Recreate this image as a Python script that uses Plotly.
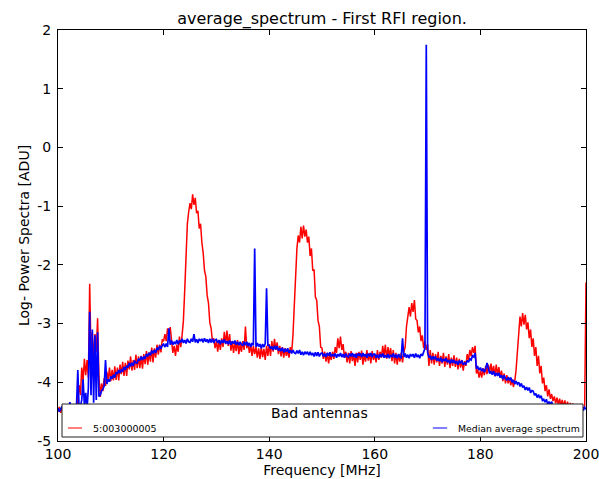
import numpy as np
import plotly.graph_objects as go

# Frequency grid: 100-200 MHz in 0.25 MHz channels
FREQ_MHZ = np.linspace(100.0, 200.0, 401)

# Median average spectrum (log power), one row per 5 MHz
MEDIAN_SPECTRUM = [
    -4.44, -4.50, -4.46, -4.41, -4.48, -4.43, -4.47, -4.42, -4.46, -4.34, -4.47, -4.43, -4.45, -4.49, -4.42, -3.79, -4.46, -4.41, -4.30, -3.95,
    -4.40, -4.18, -4.45, -4.10, -2.80, -4.22, -3.10, -4.35, -3.20, -4.30, -3.15, -4.24, -4.22, -4.14, -4.12, -4.06, -3.62, -4.03, -3.95, -3.99,
    -3.90, -3.94, -3.87, -3.92, -3.83, -3.86, -3.79, -3.84, -3.79, -3.81, -3.74, -3.79, -3.72, -3.75, -3.67, -3.73, -3.67, -3.72, -3.63, -3.67,
    -3.67, -3.60, -3.63, -3.56, -3.62, -3.56, -3.60, -3.52, -3.55, -3.50, -3.54, -3.46, -3.51, -3.45, -3.50, -3.41, -3.45, -3.38, -3.43, -3.37,
    -3.35, -3.40, -3.34, -3.40, -3.08, -3.36, -3.29, -3.36, -3.31, -3.35, -3.28, -3.35, -3.29, -3.32, -3.26, -3.33, -3.28, -3.34, -3.26, -3.31,
    -3.32, -3.26, -3.31, -3.18, -3.32, -3.27, -3.33, -3.26, -3.30, -3.26, -3.32, -3.25, -3.31, -3.27, -3.33, -3.26, -3.32, -3.26, -3.33, -3.28,
    -3.27, -3.33, -3.28, -3.35, -3.28, -3.33, -3.27, -3.34, -3.30, -3.35, -3.29, -3.36, -3.30, -3.34, -3.29, -3.36, -3.31, -3.37, -3.31, -3.36,
    -3.37, -3.31, -3.37, -3.31, -3.38, -3.33, -3.40, -3.33, -3.37, -1.72, -3.40, -3.33, -3.39, -3.35, -3.42, -3.35, -3.40, -3.34, -2.40, -3.37,
    -3.37, -3.43, -3.39, -3.45, -3.38, -3.44, -3.38, -3.46, -3.42, -3.47, -3.41, -3.49, -3.43, -3.48, -3.42, -3.50, -3.45, -3.51, -3.45, -3.50,
    -3.51, -3.46, -3.51, -3.45, -3.53, -3.48, -3.54, -3.48, -3.52, -3.48, -3.54, -3.48, -3.54, -3.50, -3.56, -3.49, -3.55, -3.49, -3.56, -3.51,
    -3.50, -3.56, -3.51, -3.57, -3.50, -3.55, -3.49, -3.56, -3.52, -3.56, -3.51, -3.58, -3.52, -3.56, -3.50, -3.57, -3.52, -3.58, -3.51, -3.56,
    -3.57, -3.51, -3.56, -3.50, -3.57, -3.52, -3.58, -3.51, -3.55, -3.51, -3.57, -3.50, -3.56, -3.52, -3.58, -3.51, -3.56, -3.50, -3.57, -3.52,
    -3.52, -3.58, -3.53, -3.59, -3.52, -3.57, -3.51, -3.58, -3.54, -3.58, -3.52, -3.59, -3.53, -3.57, -3.51, -3.58, -3.53, -3.59, -3.52, -3.57,
    -3.58, -3.25, -3.57, -3.51, -3.58, -3.53, -3.59, -3.52, -3.56, -3.52, -3.58, -3.51, -3.57, -3.53, -3.59, -3.52, -3.55, -3.48, -3.42, 1.75,
    -3.49, -3.58, -3.55, -3.62, -3.56, -3.61, -3.56, -3.63, -3.60, -3.64, -3.58, -3.66, -3.60, -3.64, -3.59, -3.66, -3.62, -3.68, -3.61, -3.67,
    -3.62, -3.68, -3.64, -3.70, -3.63, -3.68, -3.63, -3.70, -3.67, -3.69, -3.63, -3.66, -3.60, -3.62, -3.55, -3.57, -3.50, -3.77, -3.74, -3.79,
    -3.75, -3.81, -3.77, -3.83, -3.77, -3.67, -3.78, -3.85, -3.82, -3.87, -3.81, -3.89, -3.84, -3.89, -3.84, -3.92, -3.88, -3.95, -3.88, -3.94,
    -3.96, -3.91, -3.97, -3.92, -4.00, -3.96, -4.03, -3.98, -4.03, -4.00, -4.07, -4.02, -4.09, -4.06, -4.13, -4.08, -4.14, -4.09, -4.18, -4.14,
    -4.15, -4.22, -4.19, -4.26, -4.21, -4.27, -4.23, -4.31, -4.29, -4.34, -4.29, -4.38, -4.33, -4.38, -4.33, -4.42, -4.38, -4.45, -4.38, -4.44,
    -4.46, -4.40, -4.45, -4.40, -4.47, -4.42, -4.48, -4.41, -4.45, -4.42, -4.48, -4.41, -4.47, -4.43, -4.49, -4.42, -4.47, -4.41, -4.48, -4.43,
    -4.46,
]

# Bad antenna 5:003000005 (log power), one row per 5 MHz
ANTENNA_SPECTRUM = [
    -4.50, -4.42, -4.52, -4.45, -4.49, -4.44, -4.50, -4.46, -4.52, -4.45, -4.48, -4.43, -4.50, -4.44, -4.47, -4.30, -4.05, -4.22, -3.75, -3.98,
    -3.60, -3.88, -3.62, -3.92, -2.32, -3.50, -3.15, -3.62, -3.18, -3.48, -2.91, -3.90, -4.25, -4.02, -4.15, -3.93, -4.06, -3.82, -3.97, -3.75,
    -3.98, -3.79, -3.97, -3.73, -3.96, -3.75, -3.97, -3.70, -3.86, -3.65, -3.89, -3.67, -3.89, -3.63, -3.78, -3.56, -3.80, -3.62, -3.79, -3.53,
    -3.76, -3.56, -3.76, -3.55, -3.77, -3.52, -3.69, -3.47, -3.70, -3.49, -3.65, -3.41, -3.66, -3.42, -3.58, -3.36, -3.53, -3.36, -3.49, -3.27,
    -3.30, -3.18, -3.30, -3.08, -3.22, -3.06, -3.35, -3.50, -3.38, -3.55, -3.36, -3.48, -3.22, -3.40, -3.20, -2.95, -2.43, -1.75, -1.30, -1.10,
    -0.95, -1.05, -0.80, -0.98, -0.86, -1.12, -1.08, -1.38, -1.30, -1.62, -1.80, -2.10, -2.20, -2.52, -2.65, -2.98, -3.08, -3.30, -3.25, -3.42,
    -3.30, -3.48, -3.28, -3.45, -3.25, -3.40, -3.14, -3.35, -3.12, -3.38, -3.18, -3.46, -3.30, -3.50, -3.32, -3.47, -3.28, -3.52, -3.35, -3.48,
    -3.30, -3.45, -3.05, -3.42, -3.33, -3.50, -3.36, -3.55, -3.38, -3.52, -3.40, -3.58, -3.42, -3.60, -3.40, -3.57, -3.43, -3.62, -3.38, -3.55,
    -3.35, -3.55, -3.30, -3.48, -3.26, -3.45, -3.32, -3.52, -3.38, -3.56, -3.40, -3.58, -3.42, -3.55, -3.45, -3.58, -3.40, -3.50, -3.20, -2.70,
    -2.20, -1.72, -1.50, -1.62, -1.35, -1.55, -1.33, -1.52, -1.40, -1.62, -1.52, -1.85, -1.72, -2.10, -2.08, -2.55, -2.60, -2.95, -3.05, -3.40,
    -3.42, -3.60, -3.48, -3.65, -3.50, -3.68, -3.52, -3.62, -3.48, -3.60, -3.40, -3.50, -3.25, -3.42, -3.22, -3.45, -3.35, -3.58, -3.48, -3.66,
    -3.50, -3.68, -3.47, -3.64, -3.52, -3.72, -3.50, -3.66, -3.48, -3.62, -3.46, -3.70, -3.52, -3.65, -3.45, -3.63, -3.50, -3.68, -3.47, -3.62,
    -3.52, -3.66, -3.45, -3.62, -3.48, -3.58, -3.38, -3.55, -3.36, -3.60, -3.40, -3.56, -3.42, -3.64, -3.45, -3.68, -3.50, -3.70, -3.52, -3.65,
    -3.50, -3.66, -3.48, -3.40, -3.05, -2.88, -2.72, -2.88, -2.65, -2.80, -2.60, -2.92, -2.95, -3.15, -3.05, -3.30, -3.20, -3.42, -3.30, -3.45,
    -3.35, -3.72, -3.45, -3.68, -3.50, -3.70, -3.52, -3.66, -3.48, -3.72, -3.55, -3.68, -3.50, -3.74, -3.56, -3.70, -3.52, -3.76, -3.58, -3.72,
    -3.54, -3.74, -3.58, -3.78, -3.60, -3.75, -3.62, -3.80, -3.64, -3.72, -3.52, -3.62, -3.45, -3.56, -3.40, -3.50, -3.38, -3.85, -3.78, -3.92,
    -3.80, -3.92, -3.76, -3.88, -3.72, -3.86, -3.70, -3.84, -3.68, -3.85, -3.72, -3.90, -3.70, -3.86, -3.74, -3.92, -3.80, -3.98, -3.85, -4.02,
    -3.88, -4.02, -3.92, -4.05, -3.95, -4.08, -3.98, -3.80, -3.45, -3.15, -2.88, -3.05, -2.82, -3.02, -2.85, -3.10, -2.98, -3.25, -3.10, -3.40,
    -3.25, -3.55, -3.40, -3.72, -3.55, -3.85, -3.72, -4.02, -3.92, -4.15, -4.05, -4.24, -4.12, -4.28, -4.20, -4.32, -4.24, -4.36, -4.26, -4.38,
    -4.28, -4.40, -4.30, -4.42, -4.31, -4.44, -4.33, -4.45, -4.35, -4.47, -4.36, -4.48, -4.38, -4.50, -4.42, -4.52, -4.45, -4.50, -4.46, -4.40,
    -2.30,
]

X_TICKS = [100, 120, 140, 160, 180, 200]
Y_TICKS = [-5, -4, -3, -2, -1, 0, 1, 2]
Y_TICK_TEXT = ["-5", "-4", "-3", "-2", "-1", "0", "1", "2"]

ANTENNA_LABEL = "5:003000005"
MEDIAN_LABEL = "Median average spectrum"

FONT = "DejaVu Sans"

fig = go.Figure()
fig.add_trace(go.Scatter(
    x=FREQ_MHZ, y=ANTENNA_SPECTRUM, mode="lines", name=ANTENNA_LABEL,
    line=dict(color="#ff0000", width=1.5), showlegend=False,
))
fig.add_trace(go.Scatter(
    x=FREQ_MHZ, y=MEDIAN_SPECTRUM, mode="lines", name=MEDIAN_LABEL,
    line=dict(color="#0000ff", width=1.7), showlegend=False,
))

axis_common = dict(
    showline=True, linecolor="black", linewidth=1, mirror="ticks",
    ticks="inside", ticklen=5, tickcolor="black", tickwidth=1,
    showgrid=False, zeroline=False, automargin=False,
    ticklabeloverflow="allow",
    tickfont=dict(family=FONT, size=14, color="black"),
)

fig.update_xaxes(
    range=[100, 200], tickvals=X_TICKS, ticktext=[str(v) for v in X_TICKS],
    title=dict(text="Frequency [MHz]", font=dict(family=FONT, size=14, color="black"), standoff=2),
    **axis_common,
)
fig.update_yaxes(
    range=[-5, 2], tickvals=Y_TICKS, ticktext=Y_TICK_TEXT,
    title=dict(text="Log- Power Spectra [ADU]", font=dict(family=FONT, size=14, color="black"), standoff=4),
    ticklabelstandoff=3,
    **axis_common,
)

# Legend frame drawn inside the bottom of the axes
shapes = [
    dict(type="rect", xref="paper", yref="paper", x0=0.0076, x1=0.9943, y0=0.0097, y1=0.090,
         line=dict(color="#222222", width=1), fillcolor="white", layer="above"),
    dict(type="line", xref="paper", yref="paper", x0=0.0189, x1=0.0455, y0=0.0316, y1=0.0316,
         line=dict(color="#ff0000", width=1), layer="above"),
    dict(type="line", xref="paper", yref="paper", x0=0.710, x1=0.737, y0=0.0316, y1=0.0316,
         line=dict(color="#0000ff", width=1), layer="above"),
]
annotations = [
    dict(text="Bad antennas", xref="paper", yref="paper", x=0.496, y=0.068,
         xanchor="center", yanchor="middle", showarrow=False,
         font=dict(family=FONT, size=14, color="black")),
    dict(text=ANTENNA_LABEL, xref="paper", yref="paper", x=0.0625, y=0.0316,
         xanchor="left", yanchor="middle", showarrow=False,
         font=dict(family=FONT, size=9.5, color="black")),
    dict(text=MEDIAN_LABEL, xref="paper", yref="paper", x=0.754, y=0.0316,
         xanchor="left", yanchor="middle", showarrow=False,
         font=dict(family=FONT, size=9.3, color="black")),
]

fig.update_layout(
    width=599, height=479,
    margin=dict(l=58, r=13, t=30, b=38),
    paper_bgcolor="white", plot_bgcolor="white",
    title=dict(text="average_spectrum - First RFI region.", x=0.5, xanchor="center", xref="paper",
               y=0.962, yanchor="middle", yref="container",
               font=dict(family=FONT, size=16, color="black")),
    shapes=shapes, annotations=annotations,
)

fig.write_html("out.html")
